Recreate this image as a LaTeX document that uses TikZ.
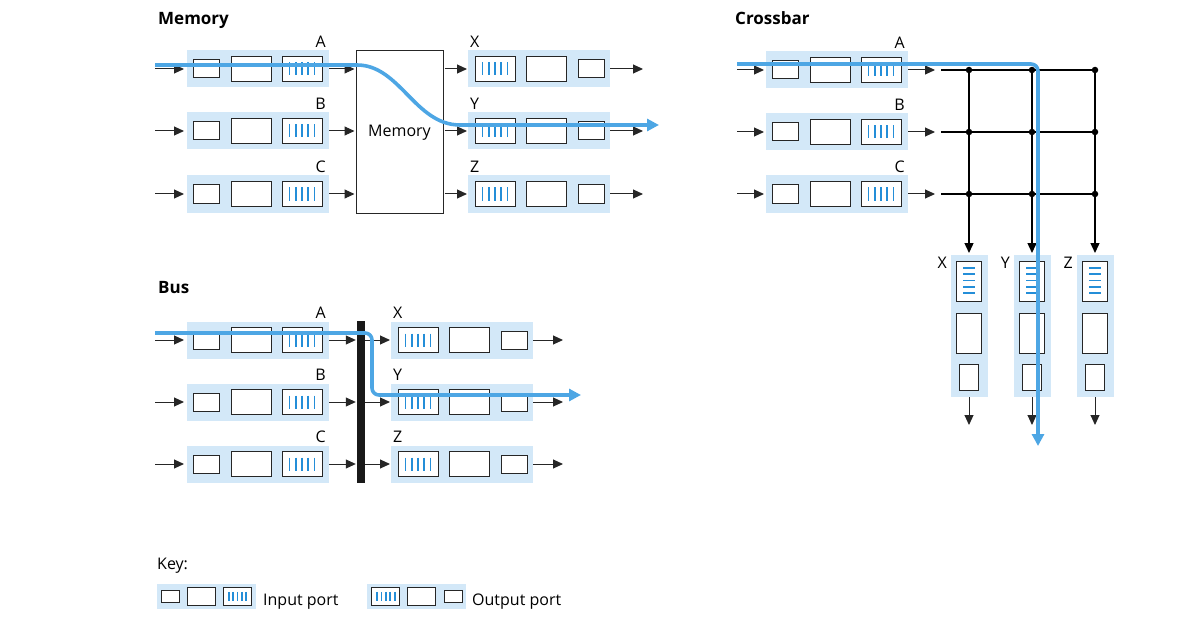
\documentclass[tikz,border=0pt]{standalone}
\usepackage{fontspec}
\setmainfont{Open Sans}
\usetikzlibrary{arrows.meta}
\definecolor{portbg}{RGB}{211,232,248}
\definecolor{flow}{RGB}{77,166,228}
\definecolor{qbar}{RGB}{36,142,216}

\tikzset{
  cell/.style={draw=black!85, line width=1pt, fill=white},
  qline/.style={draw=qbar, line width=1.8pt},
  link/.style={draw=black!85, line width=1pt, -{Triangle[length=10pt,width=9pt]}},
  flowpath/.style={draw=flow, line width=3.6pt, rounded corners=7pt, -{Triangle[length=12pt,width=12pt]}},
  lbl/.style={font=\fontsize{16}{18}\selectfont, inner sep=0pt},
  title/.style={font=\fontsize{17}{19}\selectfont\bfseries, inner sep=0pt, anchor=base west},
  dot/.style={circle, fill=black, inner sep=0pt, minimum size=6.5pt},
}

% input port: name, left x, row y  (small box, buffer, queue)
\newcommand\inport[3]{%
  \fill[portbg] (#2,#3-18.5) rectangle (#2+142,#3+18.5);
  \draw[cell] (#2+6,#3-9) rectangle (#2+32,#3+9);
  \draw[cell] (#2+44,#3-12.5) rectangle (#2+84,#3+12.5);
  \draw[cell] (#2+95,#3-12.5) rectangle (#2+135,#3+12.5);
  \foreach \k in {0,...,4} \draw[qline] (#2+102.5+6.25*\k,#3-6.5) -- ++(0,13);
  \coordinate (#1-w) at (#2,#3);
  \coordinate (#1-e) at (#2+142,#3);
}
% output port: name, left x, row y  (queue, buffer, small box)
\newcommand\outport[3]{%
  \fill[portbg] (#2,#3-18.5) rectangle (#2+142,#3+18.5);
  \draw[cell] (#2+7,#3-12.5) rectangle (#2+47,#3+12.5);
  \foreach \k in {0,...,4} \draw[qline] (#2+14.5+6.25*\k,#3-6.5) -- ++(0,13);
  \draw[cell] (#2+58,#3-12.5) rectangle (#2+98,#3+12.5);
  \draw[cell] (#2+110,#3-9) rectangle (#2+136,#3+9);
  \coordinate (#1-w) at (#2,#3);
  \coordinate (#1-e) at (#2+142,#3);
}
% vertical output port: name, centre x, top y
\newcommand\voutport[3]{%
  \fill[portbg] (#2-18.5,#3) rectangle (#2+18.5,#3+142);
  \draw[cell] (#2-12.5,#3+6) rectangle (#2+12.5,#3+46);
  \foreach \k in {0,...,4} \draw[qline] (#2-6,#3+13+6.25*\k) -- ++(12,0);
  \draw[cell] (#2-12.5,#3+58) rectangle (#2+12.5,#3+98);
  \draw[cell] (#2-9.5,#3+109) rectangle (#2+9.5,#3+135);
  \coordinate (#1-n) at (#2,#3);
  \coordinate (#1-s) at (#2,#3+142);
}

\begin{document}
\begin{tikzpicture}[x=1pt,y=-1pt]
\useasboundingbox (0,0) rectangle (1200,623);

% ---------------- Memory ----------------
\node[title] (tmem) at (158,25) {Memory};
\node[draw=black!85, line width=1pt, minimum width=87pt, minimum height=162pt, inner sep=0pt] (mem) at (399.5,132) {};
\node[lbl, anchor=base] (memtxt) at (399.5,137) {Memory};
\foreach \r/\y in {A/69,B/131,C/194}{
  \inport{mi\r}{187}{\y}
  \node[lbl, anchor=base east] (lmi\r) at (326,\y-21) {\r};
  \coordinate (msrc\r) at (155,\y);
  \draw[link, shorten >=3pt] (msrc\r) -- (mi\r-w);
  \draw[link, shorten >=1pt] (mi\r-e) -- (mi\r-e -| mem.west);
}
\foreach \r/\y in {X/69,Y/131,Z/194}{
  \outport{mo\r}{468}{\y}
  \node[lbl, anchor=base west] (lmo\r) at (470,\y-21) {\r};
  \coordinate (mdst\r) at (643,\y);
  \draw[link, shorten <=1pt, shorten >=1pt] (mo\r-w -| mem.east) -- (mo\r-w);
  \draw[link] (mo\r-e) -- (mdst\r);
}

% ---------------- Crossbar ----------------
\node[title] (tcross) at (735,25) {Crossbar};
\foreach \r/\y in {A/70,B/132,C/194}{
  \inport{ci\r}{766}{\y}
  \node[lbl, anchor=base east] (lci\r) at (905,\y-21) {\r};
  \coordinate (csrc\r) at (737,\y);
  \coordinate (cin\r) at (935,\y);
  \coordinate (cend\r) at (1095,\y);
  \draw[link, shorten >=2pt] (csrc\r) -- (ci\r-w);
  \draw[link] (ci\r-e) -- (cin\r);
  \draw[line width=1.4pt] (941,\y) -- (cend\r);
}
\foreach \c/\x in {X/969,Y/1032,Z/1095}{
  \voutport{co\c}{\x}{255}
  \node[lbl, anchor=base east] (lco\c) at (\x-22,268) {\c};
  \coordinate (ctop\c) at (\x,70);
  \coordinate (cdst\c) at (\x,425);
  \draw[line width=1.4pt, -{Triangle[length=10pt,width=9pt]}, shorten >=2pt] (ctop\c) -- (co\c-n);
  \draw[link] (co\c-s) -- (cdst\c);
  \foreach \y in {70,132,194} \node[dot] at (\x,\y) {};
}

% ---------------- Bus ----------------
\node[title] (tbus) at (158,293) {Bus};
\node[fill=black!90, minimum width=8pt, minimum height=162pt, inner sep=0pt] (bus) at (361,402) {};
\foreach \r/\y in {A/340,B/402,C/464}{
  \inport{bi\r}{187}{\y}
  \node[lbl, anchor=base east] (lbi\r) at (326,\y-22) {\r};
  \coordinate (bsrc\r) at (155,\y);
  \draw[link, shorten >=3pt] (bsrc\r) -- (bi\r-w);
  \draw[link, shorten >=1pt] (bi\r-e) -- (bi\r-e -| bus.west);
}
\foreach \r/\y in {X/340,Y/402,Z/464}{
  \outport{bo\r}{391}{\y}
  \node[lbl, anchor=base west] (lbo\r) at (393,\y-22) {\r};
  \coordinate (bdst\r) at (563,\y);
  \draw[link, shorten >=1pt] (bo\r-w -| bus.east) -- (bo\r-w);
  \draw[link] (bo\r-e) -- (bdst\r);
}

% ---------------- packet paths ----------------
\coordinate (mflowS) at (155,65);
\coordinate (mflowE) at (659,125);
\draw[flowpath] (mflowS) -- (350,65) .. controls (400,65) and (415,125) .. (467,125) -- (mflowE);
\coordinate (cflowS) at (737,64);
\coordinate (cflowE) at (1038,446);
\draw[flowpath] (cflowS) -- (1038,64) -- (cflowE);
\coordinate (bflowS) at (155,333);
\coordinate (bflowE) at (581,395);
\draw[flowpath] (bflowS) -- (372,333) -- (372,395) -- (bflowE);

% ---------------- Key ----------------
\node[lbl, anchor=base west] (key) at (157,569) {Key:};
\begin{scope}[shift={(157,596.5)}, scale=0.7]
  \inport{kin}{0}{0}
\end{scope}
\node[lbl, anchor=base west] (kintxt) at (263,605) {Input port};
\begin{scope}[shift={(367,596.5)}, scale=0.7]
  \outport{kout}{0}{0}
\end{scope}
\node[lbl, anchor=base west] (kouttxt) at (472,605) {Output port};
\end{tikzpicture}
\end{document}
